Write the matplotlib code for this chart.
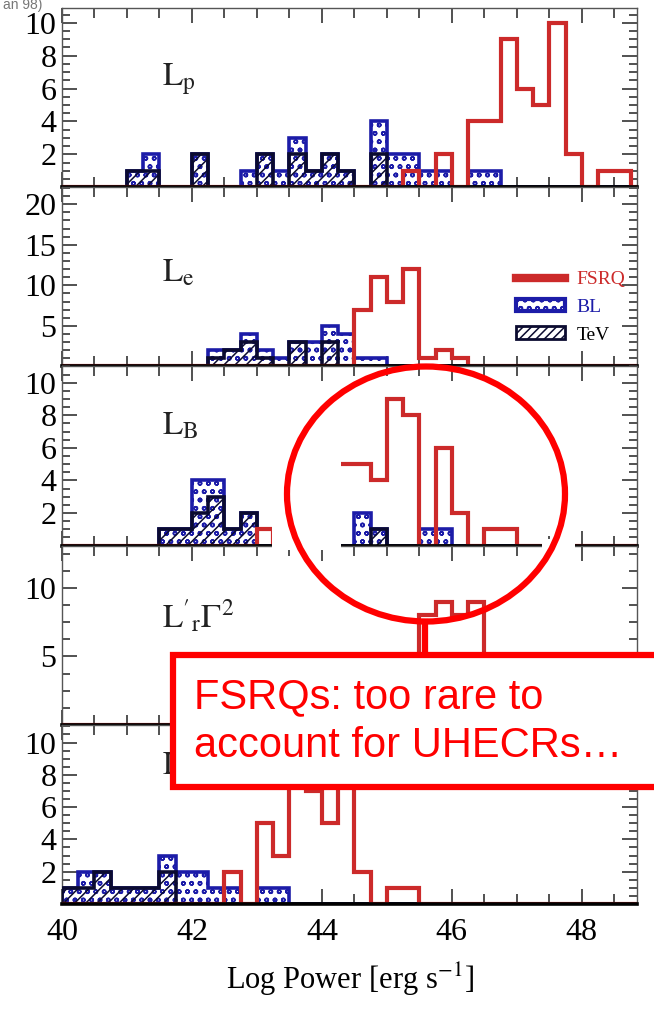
import numpy as np
import matplotlib
matplotlib.use("Agg")
import matplotlib.pyplot as plt
from matplotlib.patches import Ellipse, Rectangle, Patch
from matplotlib.lines import Line2D
from matplotlib.ticker import MultipleLocator, FixedLocator

plt.rcParams["font.family"] = ["Liberation Serif", "DejaVu Serif"]
plt.rcParams["mathtext.fontset"] = "stix"
plt.rcParams["hatch.linewidth"] = 1.1

W, H = 654, 1016
RED = "#cc2a2a"
BLUE = "#1c1ca8"
DARK = "#0b0b30"
ANNOT = "#ff0000"

# bin width 0.25 dex
EDGES = np.arange(40.0, 49.001, 0.25)

# ---- panel 1: L_p
lp_fsrq_bins = [45.25, 45.75, 46.25, 46.5, 46.75, 47.0, 47.25, 47.5, 47.75, 48.25, 48.5]
lp_fsrq_counts = [1, 2, 4, 4, 9, 6, 5, 10, 2, 1, 1]
lp_bl_bins = [41.0, 41.25, 42.0, 42.75, 43.0, 43.25, 43.5, 43.75, 44.0, 44.25,
              44.75, 45.0, 45.25, 45.5, 45.75, 46.25, 46.5]
lp_bl_counts = [1, 2, 2, 1, 2, 1, 3, 1, 2, 1, 4, 2, 2, 1, 1, 1, 1]
lp_tev_bins = [41.0, 41.25, 42.0, 43.0, 43.5, 43.75, 44.0, 44.25, 44.75]
lp_tev_counts = [1, 1, 2, 2, 2, 1, 2, 1, 2]

# ---- panel 2: L_e
le_fsrq_bins = [44.5, 44.75, 45.0, 45.25, 45.5, 45.75, 46.0]
le_fsrq_counts = [7, 11, 8, 12, 1, 2, 1]
le_bl_bins = [42.25, 42.5, 42.75, 43.0, 43.25, 43.5, 43.75, 44.0, 44.25, 44.5, 44.75]
le_bl_counts = [2, 2, 4, 2, 1, 3, 3, 5, 4, 1, 1]
le_tev_bins = [42.25, 42.5, 42.75, 43.0, 43.5, 44.0]
le_tev_counts = [1, 2, 3, 1, 3, 3]

# ---- panel 3: L_B
lb_fsrq_bins = [43.0, 44.25, 44.5, 44.75, 45.0, 45.25, 45.75, 46.0, 46.5, 46.75]
lb_fsrq_counts = [1, 5, 5, 4, 9, 8, 6, 2, 1, 1]
lb_bl_bins = [41.5, 41.75, 42.0, 42.25, 42.5, 42.75, 44.0, 44.5, 44.75, 45.5, 45.75]
lb_bl_counts = [1, 1, 4, 4, 1, 2, 3, 2, 1, 1, 1]
lb_tev_bins = [41.5, 41.75, 42.0, 42.25, 42.5, 42.75, 44.75]
lb_tev_counts = [1, 1, 2, 3, 1, 2, 1]

# ---- panel 4: L'_r Gamma^2 (mostly hidden by the box)
lr_fsrq_bins = [45.5, 45.75, 46.0, 46.25]
lr_fsrq_counts = [8, 9, 8, 9]

# ---- panel 5
lk_fsrq_bins = [42.5, 43.0, 43.25, 43.5, 43.75, 44.0, 44.25, 44.5, 45.0, 45.25]
lk_fsrq_counts = [2, 5, 3, 9, 7, 5, 10, 2, 1, 1]
lk_bl_bins = [40.0, 40.25, 40.5, 40.75, 41.0, 41.25, 41.5, 41.75, 42.0, 42.25,
              42.5, 43.0, 43.25]
lk_bl_counts = [1, 2, 2, 1, 1, 1, 3, 2, 2, 1, 1, 1, 1]
lk_tev_bins = [40.0, 40.25, 40.5, 40.75, 41.0, 41.25, 41.5]
lk_tev_counts = [1, 1, 2, 1, 1, 1, 2]

x_ticks = [40, 42, 44, 46, 48]


def to_counts(bins, counts):
    arr = np.zeros(len(EDGES) - 1)
    for b, c in zip(bins, counts):
        arr[int(round((b - 40.0) / 0.25))] = c
    return arr


def fx(px):
    return px / W


def fy(py):
    return 1 - py / H


panels = [
    dict(label=r"$\mathrm{L_p}$", ly=0.57, ymax=10.9, yt=[2, 4, 6, 8, 10], ym=0.5,
         fsrq=(lp_fsrq_bins, lp_fsrq_counts), bl=(lp_bl_bins, lp_bl_counts),
         tev=(lp_tev_bins, lp_tev_counts)),
    dict(label=r"$\mathrm{L_e}$", ly=0.475, ymax=22.1, yt=[5, 10, 15, 20], ym=1,
         fsrq=(le_fsrq_bins, le_fsrq_counts), bl=(le_bl_bins, le_bl_counts),
         tev=(le_tev_bins, le_tev_counts)),
    dict(label=r"$\mathrm{L_B}$", ly=0.62, ymax=11.0, yt=[2, 4, 6, 8, 10], ym=0.5,
         fsrq=(lb_fsrq_bins, lb_fsrq_counts), bl=(lb_bl_bins, lb_bl_counts),
         tev=(lb_tev_bins, lb_tev_counts)),
    dict(label=r"$\mathrm{L'_r\Gamma^2}$", ly=0.54, ymax=13.1, yt=[5, 10], ym=1.25,
         fsrq=(lr_fsrq_bins, lr_fsrq_counts), bl=None, tev=None),
    dict(label=r"$\mathrm{L_r}$", ly=0.72, ymax=11.1, yt=[2, 4, 6, 8, 10], ym=0.5,
         fsrq=(lk_fsrq_bins, lk_fsrq_counts), bl=(lk_bl_bins, lk_bl_counts),
         tev=(lk_tev_bins, lk_tev_counts)),
]

fig = plt.figure(figsize=(W / 100, H / 100), dpi=100)

top_px, bot_px = 8, 904
ph = (bot_px - top_px) / len(panels)
left_px, right_px = 62, 637

for i, p in enumerate(panels):
    y0 = top_px + (i + 1) * ph
    ax = fig.add_axes([fx(left_px), fy(y0), fx(right_px) - fx(left_px), ph / H])
    ax.set_xlim(40, 48.85)
    ax.set_ylim(0, p["ymax"])

    if p["bl"] is not None:
        ax.stairs(to_counts(*p["bl"]), EDGES, fill=True, facecolor="white",
                  edgecolor=BLUE, hatch="oo", linewidth=2.6, zorder=2)
    if p["tev"] is not None:
        ax.stairs(to_counts(*p["tev"]), EDGES, fill=True, facecolor="none",
                  edgecolor=DARK, hatch="///", linewidth=2.6, zorder=3)
    ax.stairs(to_counts(*p["fsrq"]), EDGES, baseline=0, fill=False,
              edgecolor=RED, linewidth=3, zorder=4)

    ax.text(0.174, p["ly"], p["label"], transform=ax.transAxes, fontsize=24,
            ha="left", va="baseline", color="#222222")

    ax.xaxis.set_major_locator(FixedLocator(x_ticks))
    ax.xaxis.set_minor_locator(MultipleLocator(0.5))
    ax.yaxis.set_major_locator(FixedLocator(p["yt"]))
    ax.yaxis.set_minor_locator(MultipleLocator(p["ym"]))
    ax.tick_params(which="both", direction="in", top=True, right=True,
                   color="#333333", width=1.2)
    ax.tick_params(axis="x", which="major", length=11)
    ax.tick_params(axis="x", which="minor", length=7)
    ax.tick_params(axis="y", which="major", length=11, labelsize=23, pad=4)
    ax.tick_params(axis="y", which="minor", length=6)
    ax.tick_params(axis="x", labelsize=23, pad=10)
    if i < len(panels) - 1:
        ax.tick_params(axis="x", labelbottom=False)
    else:
        ax.set_xlabel(r"Log Power [erg s$^{-1}$]", fontsize=22, labelpad=10)

    for side in ["left", "right", "top"]:
        ax.spines[side].set_linewidth(1.0)
        ax.spines[side].set_color("#555555")
    ax.spines["bottom"].set_linewidth(2.6)
    ax.spines["bottom"].set_color("black")
    ax.spines["bottom"].set_zorder(6)

    if i == 1:
        handles = [
            Line2D([0], [0], color=RED, linewidth=6),
            Patch(facecolor="white", edgecolor=BLUE, hatch="oo", linewidth=3),
            Patch(facecolor="white", edgecolor=DARK, hatch="////", linewidth=2),
        ]
        ax.legend(handles, ["FSRQ", "BL", "TeV"], loc="center left",
                  bbox_to_anchor=(0.79, 0.33), frameon=False, fontsize=14,
                  handlelength=2.5, handleheight=0.6, handletextpad=0.6,
                  labelspacing=0.55, borderpad=0, borderaxespad=0,
                  labelcolor=[RED, BLUE, "black"])

# small note at the very top
fig.text(0.005, fy(9), "an 98)", fontsize=10, color="#777777",
         family=["Liberation Sans", "DejaVu Sans"], ha="left", va="baseline")

# pasted-over region in the L_B panel
fig.add_artist(Rectangle((fx(272), fy(550)), fx(341) - fx(272), (550 - 458) / H,
                         transform=fig.transFigure, facecolor="white",
                         edgecolor="none", zorder=5))
fig.add_artist(Rectangle((fx(542), fy(549)), fx(575) - fx(542), 10 / H,
                         transform=fig.transFigure, facecolor="white",
                         edgecolor="none", zorder=5))

# red callout
fig.add_artist(Ellipse((fx(426), fy(494)), fx(278), 255 / H,
                       transform=fig.transFigure, facecolor="none",
                       edgecolor=ANNOT, linewidth=4.5, zorder=10))
fig.add_artist(Line2D([fx(425), fx(425)], [fy(622), fy(656)],
                      transform=fig.transFigure, color=ANNOT, linewidth=4.5,
                      zorder=10))
fig.add_artist(Rectangle((fx(173), fy(787)), fx(670) - fx(173), (787 - 655) / H,
                         transform=fig.transFigure, facecolor="white",
                         edgecolor=ANNOT, linewidth=4.5, zorder=11))
for txt, base in [("FSRQs: too rare to", 708), ("account for UHECRs\u2026", 757)]:
    fig.text(fx(194), fy(base), txt, fontsize=30, color=ANNOT,
             family=["Liberation Sans", "DejaVu Sans"], ha="left", va="baseline",
             zorder=12)

fig.savefig("out.png", dpi=100)
